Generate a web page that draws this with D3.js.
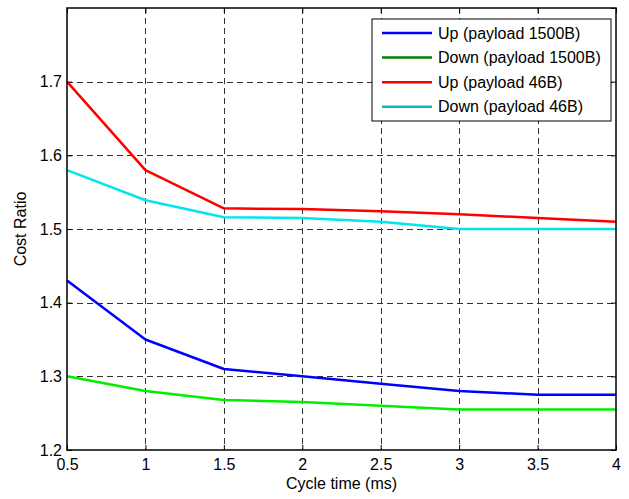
<!DOCTYPE html>
<html>
<head>
<meta charset="utf-8">
<script src="https://cdnjs.cloudflare.com/ajax/libs/d3/7.8.5/d3.min.js"></script>
<style>
  body { margin: 0; background: #fff; }
  text { font-family: "Liberation Sans", Arial, sans-serif; }
</style>
</head>
<body>
<svg id="chart" width="629" height="499"></svg>
<script>
// cycle times (ms)
var cycleTimes = [0.5, 1, 1.5, 2, 2.5, 3, 3.5, 4];
var upPayload1500 = [1.43, 1.35, 1.31, 1.30, 1.29, 1.28, 1.275, 1.275];
var downPayload1500 = [1.30, 1.28, 1.268, 1.265, 1.26, 1.255, 1.255, 1.255];
var upPayload46 = [1.70, 1.58, 1.528, 1.527, 1.524, 1.52, 1.515, 1.51];
var downPayload46 = [1.58, 1.539, 1.516, 1.515, 1.51, 1.50, 1.50, 1.50];
var xTicks = [0.5, 1, 1.5, 2, 2.5, 3, 3.5, 4];
var yTicks = [1.2, 1.3, 1.4, 1.5, 1.6, 1.7, 1.8];

var series = [
  { name: "Up (payload 1500B)", values: upPayload1500, color: "#0000ff", legendColor: "#0000ff" },
  { name: "Down (payload 1500B)", values: downPayload1500, color: "#00ee00", legendColor: "#008000" },
  { name: "Up (payload 46B)", values: upPayload46, color: "#ff0000", legendColor: "#ff0000" },
  { name: "Down (payload 46B)", values: downPayload46, color: "#00e5ee", legendColor: "#00c0c0" }
];

// plot box ("top" is taken by window.top, so prefixed names)
var pLeft = 67, pRight = 616, pTop = 8, pBottom = 450;
var fontSize = 16;
var svg = d3.select("#chart");

var x = d3.scaleLinear().domain([0.5, 4]).range([pLeft, pRight]);
var y = d3.scaleLinear().domain([1.2, 1.8]).range([pBottom, pTop]);

// grid
var grid = svg.append("g").attr("stroke", "#000").attr("stroke-width", 1)
  .attr("stroke-dasharray", "6,4").attr("shape-rendering", "crispEdges").attr("opacity", 0.8);
grid.selectAll(".gx").data(xTicks.slice(1, -1)).enter().append("line")
  .attr("x1", function(d) { return Math.round(x(d)) + 0.5; })
  .attr("x2", function(d) { return Math.round(x(d)) + 0.5; })
  .attr("y1", pTop).attr("y2", pBottom);
grid.selectAll(".gy").data(yTicks.slice(1, -1)).enter().append("line")
  .attr("y1", function(d) { return Math.round(y(d)) + 0.5; })
  .attr("y2", function(d) { return Math.round(y(d)) + 0.5; })
  .attr("x1", pLeft).attr("x2", pRight);

// axes (ticks pointing inward)
var xAxis = d3.axisBottom(x).tickValues(xTicks).tickSize(-5).tickPadding(9)
  .tickFormat(d3.format("~g"));
var yAxis = d3.axisLeft(y).tickValues(yTicks.slice(0, -1)).tickSize(-5).tickPadding(5)
  .tickFormat(d3.format(".1f"));

svg.append("g").attr("transform", "translate(0," + pBottom + ")").call(xAxis);
svg.append("g").attr("transform", "translate(" + pLeft + ",0)").call(yAxis);
svg.append("g").attr("transform", "translate(0," + pTop + ")")
  .call(d3.axisTop(x).tickValues(xTicks).tickSize(-5).tickFormat(""));
svg.append("g").attr("transform", "translate(" + pRight + ",0)")
  .call(d3.axisRight(y).tickValues(yTicks).tickSize(-5).tickFormat(""));

svg.selectAll(".domain").remove();
svg.selectAll(".tick line").attr("stroke", "#000");
svg.selectAll(".tick text").attr("font-size", fontSize).attr("fill", "#000")
  .attr("font-family", "Liberation Sans, Arial, sans-serif");

// lines
var line = d3.line()
  .x(function(d, i) { return x(cycleTimes[i]); })
  .y(function(d) { return y(d); });

svg.selectAll(".series").data(series).enter().append("path")
  .attr("fill", "none")
  .attr("stroke", function(d) { return d.color; })
  .attr("stroke-width", 2.5)
  .attr("stroke-linejoin", "round")
  .attr("d", function(d) { return line(d.values); });

// box
svg.append("rect").attr("x", pLeft).attr("y", pTop)
  .attr("width", pRight - pLeft).attr("height", pBottom - pTop)
  .attr("fill", "none").attr("stroke", "#000").attr("stroke-width", 1.5);

// legend
var lg = svg.append("g");
lg.append("rect").attr("x", 372).attr("y", 19).attr("width", 239).attr("height", 102)
  .attr("fill", "#fff").attr("stroke", "#000").attr("stroke-width", 1);
var items = lg.selectAll(".item").data(series).enter().append("g")
  .attr("transform", function(d, i) { return "translate(0," + (33 + i * 24.6) + ")"; });
items.append("line").attr("x1", 382).attr("x2", 432).attr("y1", 0).attr("y2", 0)
  .attr("stroke", function(d) { return d.legendColor; }).attr("stroke-width", 2.5);
items.append("text").attr("x", 438).attr("y", 0).attr("dy", "0.35em")
  .attr("font-size", fontSize).text(function(d) { return d.name; });

// axis labels
svg.append("text").attr("x", (pLeft + pRight) / 2).attr("y", 489)
  .attr("text-anchor", "middle").attr("font-size", fontSize).text("Cycle time (ms)");
svg.append("text").attr("transform", "translate(26," + ((pTop + pBottom) / 2) + ") rotate(-90)")
  .attr("text-anchor", "middle").attr("font-size", fontSize).text("Cost Ratio");
</script>
</body>
</html>
